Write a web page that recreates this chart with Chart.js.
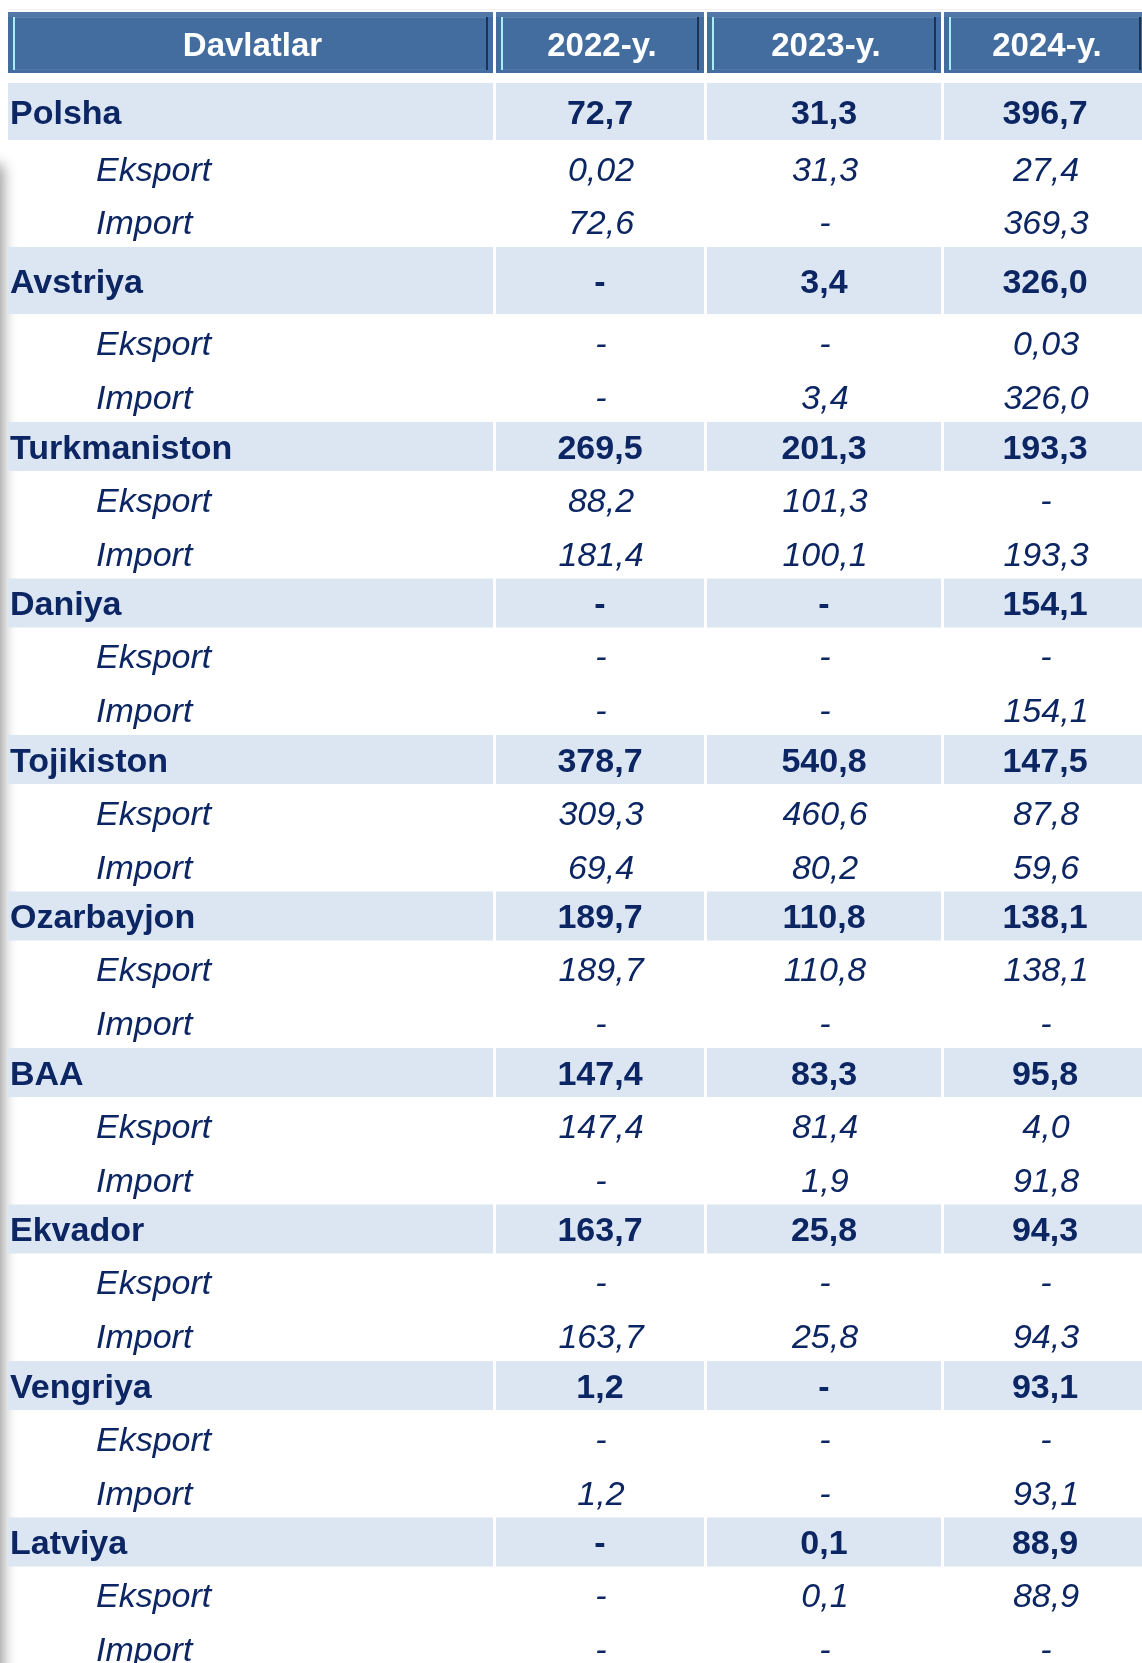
<!DOCTYPE html>
<html>
<head>
<meta charset="utf-8">
<script src="https://cdn.jsdelivr.net/npm/chart.js@4.4.1/dist/chart.umd.min.js"></script>
<style>
  html, body { margin: 0; padding: 0; background: #fff; }
  canvas { display: block; }
</style>
</head>
<body>
<canvas id="tradeTable" width="1142" height="1663"></canvas>
<script>
// ---- data ----
const columns = ['Davlatlar', '2022-y.', '2023-y.', '2024-y.'];
const countries = ['Polsha', 'Avstriya', 'Turkmaniston', 'Daniya', 'Tojikiston', 'Ozarbayjon', 'BAA', 'Ekvador', 'Vengriya', 'Latviya'];
const subLabels = ['Eksport', 'Import'];

// null = "-"
const total2022 = [72.7, null, 269.5, null, 378.7, 189.7, 147.4, 163.7, 1.2, null];
const total2023 = [31.3, 3.4, 201.3, null, 540.8, 110.8, 83.3, 25.8, null, 0.1];
const total2024 = [396.7, 326.0, 193.3, 154.1, 147.5, 138.1, 95.8, 94.3, 93.1, 88.9];

const export2022 = [0.02, null, 88.2, null, 309.3, 189.7, 147.4, null, null, null];
const export2023 = [31.3, null, 101.3, null, 460.6, 110.8, 81.4, null, null, 0.1];
const export2024 = [27.4, 0.03, null, null, 87.8, 138.1, 4.0, null, null, 88.9];

const import2022 = [72.6, null, 181.4, null, 69.4, null, null, 163.7, 1.2, null];
const import2023 = [null, 3.4, 100.1, null, 80.2, null, 1.9, 25.8, null, null];
const import2024 = [369.3, 326.0, 193.3, 154.1, 59.6, null, 91.8, 94.3, 93.1, null];

// ---- layout (scale units == pixels) ----
const colLeft = [8, 496, 707, 944];
const colRight = [493, 704, 941, 1146];
const headerTop = 12, headerBottom = 73;
const firstRowTop = 83;
const bandSpan = [57, 67, 49, 49, 49, 49, 49, 49, 49, 49];
const subSpan = [53.5, 54, 53.75, 53.75, 53.75, 53.75, 53.75, 53.75, 53.75, 53.75];

const NAVY = '#0c2563';
const BAND = '#dce6f2';
const FONT = '"Liberation Sans", Arial, sans-serif';

function fmt(v) {
  if (v === null) return '-';
  const d = (v !== 0 && Math.abs(v) < 0.1) ? 2 : 1;
  return v.toFixed(d).replace('.', ',');
}

const tablePlugin = {
  id: 'tablePlugin',
  beforeDatasetsDraw(chart) {
    const ctx = chart.ctx;
    const xs = chart.scales.x, ys = chart.scales.y;
    const X = v => xs.getPixelForValue(v);
    const Y = v => ys.getPixelForValue(v);

    ctx.save();

    // faint line above the header
    ctx.fillStyle = '#eeeeee';
    ctx.fillRect(X(8), Y(9), X(1142) - X(8), 1);

    // soft shadow on the left edge
    ctx.save();
    ctx.filter = 'blur(7px)';
    ctx.fillStyle = 'rgba(0,0,0,0.42)';
    ctx.fillRect(X(0) - 14, Y(165), 17, Y(1663) - Y(165) + 40);
    ctx.restore();

    // header cells
    const hT = Y(headerTop), hB = Y(headerBottom);
    columns.forEach((label, i) => {
      const l = X(colLeft[i]), r = X(colRight[i]);
      ctx.fillStyle = '#436d9f';
      ctx.fillRect(l, hT, r - l, hB - hT);
      ctx.fillStyle = 'rgba(255,255,255,0.07)';
      ctx.fillRect(l, hT, r - l, 5);
      ctx.fillStyle = 'rgba(255,255,255,0.12)';
      ctx.fillRect(l + 5, hT + 5, r - l - 10, 1);
      ctx.fillStyle = 'rgba(255,255,255,0.08)';
      ctx.fillRect(l + 5, hB - 4, r - l - 10, 1);
      ctx.fillStyle = '#a8ecff';
      ctx.fillRect(l + 5, hT + 5, 2, hB - hT - 8);
      ctx.fillStyle = '#1c3352';
      ctx.fillRect(r - 7, hT + 5, 2, hB - hT - 8);

      ctx.fillStyle = '#ffffff';
      ctx.font = 'bold 33px ' + FONT;
      ctx.textAlign = 'center';
      ctx.textBaseline = 'alphabetic';
      ctx.fillText(label, (l + r) / 2 + 2, (hT + hB) / 2 + 13);
    });

    // body rows
    const totals = [total2022, total2023, total2024];
    const exps = [export2022, export2023, export2024];
    const imps = [import2022, import2023, import2024];
    let top = firstRowTop;
    countries.forEach((name, k) => {
      const bT = Y(top), bB = Y(top + bandSpan[k]);
      for (let i = 0; i < 4; i++) {
        ctx.fillStyle = BAND;
        ctx.fillRect(X(colLeft[i]), bT, X(colRight[i]) - X(colLeft[i]), bB - bT);
      }
      const base = (bT + bB) / 2 + 12;
      ctx.fillStyle = NAVY;
      ctx.font = 'bold 34px ' + FONT;
      ctx.textAlign = 'left';
      ctx.fillText(name, X(colLeft[0]) + 2, base);
      ctx.textAlign = 'center';
      totals.forEach((arr, i) => {
        ctx.fillText(fmt(arr[k]), (X(colLeft[i + 1]) + X(colRight[i + 1])) / 2, base);
      });

      let rowTop = top + bandSpan[k];
      [exps, imps].forEach((set, j) => {
        const c = Y(rowTop + subSpan[k] / 2) + 14;
        ctx.font = 'italic 34px ' + FONT;
        ctx.textAlign = 'left';
        ctx.fillText(subLabels[j], X(96), c);
        ctx.textAlign = 'center';
        set.forEach((arr, i) => {
          ctx.fillText(fmt(arr[k]), (X(colLeft[i + 1]) + X(colRight[i + 1])) / 2 + 1, c);
        });
        rowTop += subSpan[k];
      });
      top = rowTop;
    });

    ctx.restore();
  }
};

new Chart(document.getElementById('tradeTable'), {
  type: 'scatter',
  data: { datasets: [] },
  options: {
    responsive: false,
    animation: false,
    layout: { padding: 0 },
    plugins: { legend: { display: false }, tooltip: { enabled: false } },
    scales: {
      x: { type: 'linear', min: 0, max: 1142, display: false },
      y: { type: 'linear', min: 0, max: 1663, reverse: true, display: false }
    }
  },
  plugins: [tablePlugin]
});
</script>
</body>
</html>
